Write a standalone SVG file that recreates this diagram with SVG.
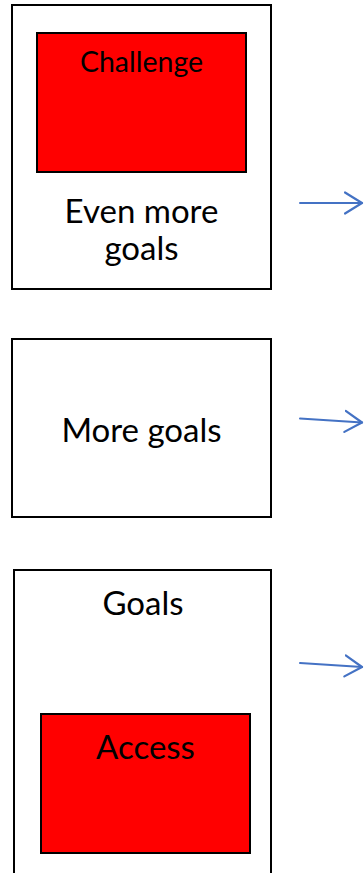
<svg xmlns="http://www.w3.org/2000/svg" width="364" height="873" viewBox="0 0 364 873">
<defs>
<style>
.box{fill:#fff;stroke:#000;stroke-width:2}
.red{fill:#f00;stroke:#000;stroke-width:2}
.t{font-family:Lato,"Open Sans","Liberation Sans",sans-serif;fill:#000;text-anchor:middle}
.conn{fill:none;stroke:#4472C4;stroke-width:2;stroke-linecap:round;stroke-linejoin:round}
</style>
<marker id="arr" viewBox="0 0 20 24" refX="18" refY="12" markerWidth="20" markerHeight="24" markerUnits="userSpaceOnUse" orient="auto">
<path d="M1,1.5 L18,12 L1,22.5" fill="none" stroke="#4472C4" stroke-width="2.2" stroke-linecap="round" stroke-linejoin="round"/>
</marker>
</defs>
<rect width="364" height="873" fill="#fff"/>
<g id="node-top">
<rect class="box" x="12" y="5" width="259" height="284"/>
<rect class="red" x="37" y="33" width="209" height="139"/>
<text class="t" x="141.5" y="72" font-size="28.5">Challenge</text>
<text class="t" x="141.5" y="223" font-size="33">Even more</text>
<text class="t" x="141.5" y="260" font-size="33">goals</text>
</g>
<g id="node-middle">
<rect class="box" x="12" y="339" width="259" height="178"/>
<text class="t" x="141.5" y="442" font-size="33">More goals</text>
</g>
<g id="node-bottom">
<rect class="box" x="14" y="570" width="257" height="320"/>
<text class="t" x="143" y="615" font-size="33">Goals</text>
<rect class="red" x="41" y="714" width="209" height="139"/>
<text class="t" x="145.5" y="759" font-size="33">Access</text>
</g>
<g id="connectors">
<line class="conn" x1="300" y1="203" x2="362" y2="203" marker-end="url(#arr)"/>
<line class="conn" x1="300" y1="418.5" x2="362" y2="422.5" marker-end="url(#arr)"/>
<line class="conn" x1="300" y1="663" x2="362" y2="667" marker-end="url(#arr)"/>
</g>
</svg>
